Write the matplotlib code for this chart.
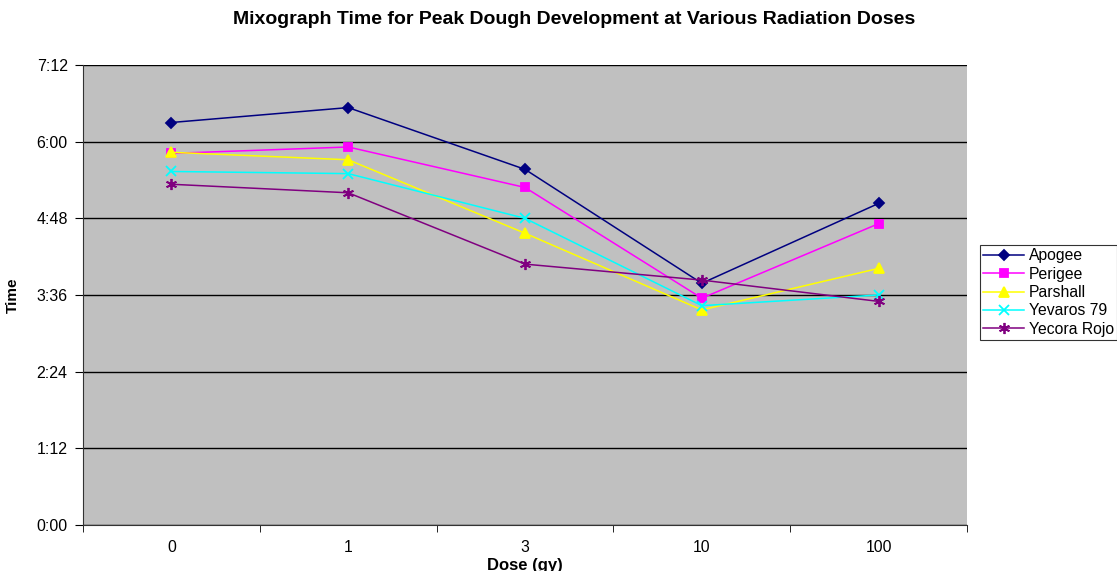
import matplotlib.pyplot as plt
from matplotlib.ticker import FixedLocator, NullFormatter

plt.rcParams['font.family'] = ['Liberation Sans', 'DejaVu Sans']

doses = ['0', '1', '3', '10', '100']
apogee = ['6:18', '6:32', '5:34', '3:47', '5:02']
perigee = ['5:49', '5:55', '5:17', '3:33', '4:43']
parshall = ['5:50', '5:43', '4:34', '3:22', '4:01']
yevaros = ['5:32', '5:30', '4:48', '3:26', '3:36']
yecora = ['5:20', '5:12', '4:05', '3:50', '3:30']

y_ticks = ['0:00', '1:12', '2:24', '3:36', '4:48', '6:00', '7:12']


def to_min(s):
    m, sec = s.split(':')
    return int(m) + int(sec) / 60.0


series = [
    ('Apogee', apogee, '#000080', 'D', 5),
    ('Perigee', perigee, '#FF00FF', 's', 6),
    ('Parshall', parshall, '#FFFF00', '^', 7),
    ('Yevaros 79', yevaros, '#00FFFF', 'x', 7),
    ('Yecora Rojo', yecora, '#800080', (6, 2, 0), 8),
]

fig = plt.figure(figsize=(11.17, 5.71), dpi=100)
ax = fig.add_axes([83 / 1117, 1 - 525 / 571, 884 / 1117, 460 / 571])
ax.set_facecolor('#C0C0C0')

x = list(range(len(doses)))
for name, vals, col, mk, ms in series:
    ax.plot(x, [to_min(v) for v in vals], color=col, marker=mk, markersize=ms,
            linewidth=1.1, markeredgewidth=1.3, label=name)

ax.set_xlim(-0.5, len(doses) - 0.5)
ax.set_xticks(x)
ax.set_xticklabels(doses, fontsize=11.3)
ax.xaxis.set_minor_locator(FixedLocator([i - 0.5 for i in range(len(doses) + 1)]))
ax.xaxis.set_minor_formatter(NullFormatter())
ax.tick_params(axis='x', which='major', length=0, pad=11)
ax.tick_params(axis='x', which='minor', length=5, direction='out')

yt = [to_min(t) for t in y_ticks]
ax.set_ylim(0, yt[-1])
ax.set_yticks(yt)
ax.set_yticklabels(y_ticks, fontsize=11.5)
ax.tick_params(axis='y', length=6, direction='out', pad=5)
ax.yaxis.grid(True, color='black', linewidth=1)
ax.set_axisbelow(True)

for side in ['top', 'right']:
    ax.spines[side].set_visible(False)
ax.spines['left'].set_color('#333333')
ax.spines['bottom'].set_color('#333333')

ax.set_xlabel('Dose (gy)', fontsize=12, fontweight='bold', labelpad=2)
ax.set_ylabel('Time', fontsize=11, fontweight='bold', labelpad=12)
fig.text(574 / 1117, 1 - 19 / 571,
         'Mixograph Time for Peak Dough Development at Various Radiation Doses',
         ha='center', va='center', fontsize=14, fontweight='bold')

leg = fig.legend(loc='upper left', bbox_to_anchor=(980 / 1117, 1 - 245 / 571),
                 fontsize=11.3, frameon=True, fancybox=False, edgecolor='black',
                 borderpad=0.2, labelspacing=0.22, handlelength=2.6,
                 handletextpad=0.3, borderaxespad=0)
leg.get_frame().set_linewidth(0.8)

fig.savefig('out.png', dpi=100)
